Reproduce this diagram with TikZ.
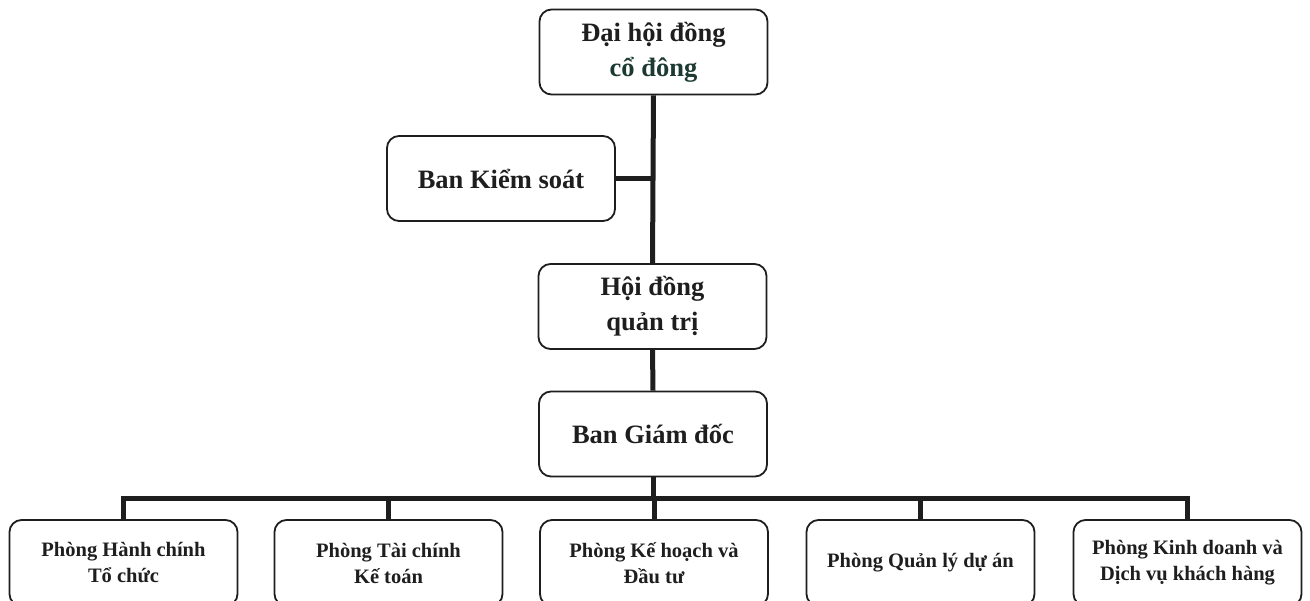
\documentclass[tikz,border=0pt]{standalone}
\usepackage{fontspec}
\setmainfont{Liberation Serif}
\definecolor{ink}{HTML}{1E1E1E}
\definecolor{inkgreen}{HTML}{1C3A32}
\begin{document}
\begin{tikzpicture}[x=1pt,y=-1pt,
  orgbox/.style={draw=ink, line width=1.8pt, rounded corners=12pt, fill=white,
    minimum width=228pt, minimum height=85pt, align=center, text=ink,
    font=\bfseries\fontsize{26.5}{35}\selectfont, inner sep=0pt},
  deptbox/.style={orgbox, minimum width=228pt, minimum height=86pt,
    font=\bfseries\fontsize{20.5}{26}\selectfont},
  link/.style={draw=ink, line width=5pt}]
\useasboundingbox (0,0) rectangle (1310,601);
\clip (0,0) rectangle (1310,601);
\fill[white] (0,0) rectangle (1310,601);

\node[orgbox] (dhcd) at (653.5,52) {Đại hội đồng\\\textcolor{inkgreen}{cổ đông}};
\node[orgbox] (bks) at (501,178.5) {Ban Kiểm soát};
\node[orgbox] (hdqt) at (652.5,306.5) {Hội đồng\\quản trị};
\node[orgbox] (bgd) at (653,434) {Ban Giám đốc};

\node[deptbox] (p1) at (123.5,563) {Phòng Hành chính\\Tổ chức};
\node[deptbox] (p2) at (388.5,563) {Phòng Tài chính\\Kế toán};
\node[deptbox] (p3) at (654,563) {Phòng Kế hoạch và\\Đầu tư};
\node[deptbox] (p4) at (920.5,563) {Phòng Quản lý dự án};
\node[deptbox] (p5) at (1187.5,563) {Phòng Kinh doanh và\\Dịch vụ khách hàng};

\coordinate (bus) at (653,499);

\draw[link] (dhcd.south) -- (hdqt.north);
\draw[link] (bks.east) -- (bks.east -| dhcd.south);
\draw[link] (hdqt.south) -- (bgd.north);
\draw[link] (bgd.south) -- (bus);
\draw[link] (p1.north) |- (bus) -| (p5.north);
\draw[link] (p2.north) -- (p2.north |- bus);
\draw[link] (p3.north) -- (p3.north |- bus);
\draw[link] (p4.north) -- (p4.north |- bus);

\end{tikzpicture}
\end{document}
